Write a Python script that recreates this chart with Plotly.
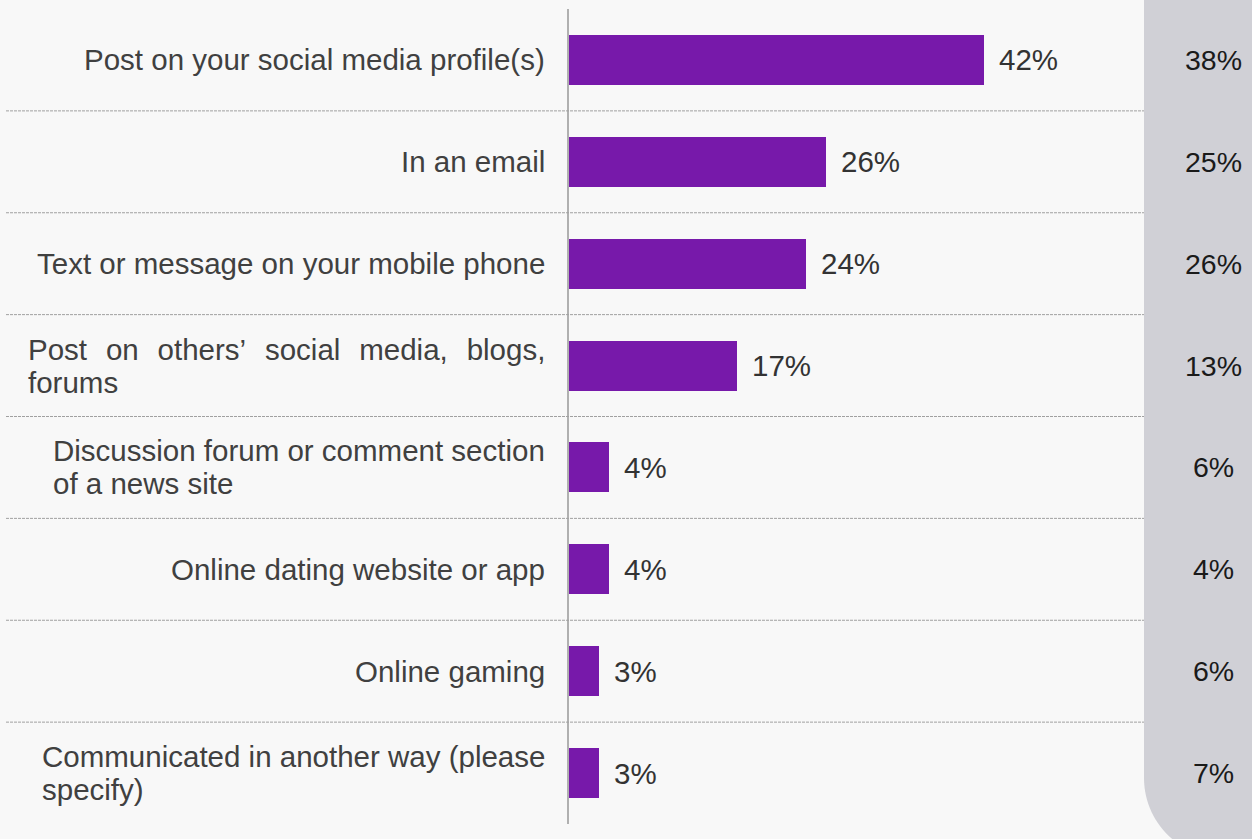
import plotly.graph_objects as go

# Survey answers: where the content was shared
categories = [
    "Post on your social media profile(s)",
    "In an email",
    "Text or message on your mobile phone",
    "Post on others’ social media, blogs, forums",
    "Discussion forum or comment section of a news site",
    "Online dating website or app",
    "Online gaming",
    "Communicated in another way (please specify)",
]
# Wrapped display text for the row labels (the first line of the fourth
# label is spread out to the full label width)
GAP = "\u00a0\u00a0\u200a"
label_lines = [
    ["Post on your social media profile(s)"],
    ["In an email"],
    ["Text or message on your mobile phone"],
    [GAP.join(["Post", "on", "others’", "social", "media,", "blogs,"]), "forums"],
    ["Discussion forum or comment section", "of a news site"],
    ["Online dating website or app"],
    ["Online gaming"],
    ["Communicated in another way (please", "specify)"],
]
current_pct = [42, 26, 24, 17, 4, 4, 3, 3]
comparison_pct = [38, 25, 26, 13, 6, 4, 6, 7]

W, H = 1252, 839
FONT = "Liberation Sans, Arial, sans-serif"
PURPLE = "#7719aa"
TEXT_SIZE = 29.5


def px(x):
    return x / W


def py(y):
    return 1 - y / H


fig = go.Figure()
fig.add_trace(go.Bar(
    y=categories,
    x=current_pct,
    orientation="h",
    marker=dict(color=PURPLE, line=dict(width=0)),
    width=0.49,
    hoverinfo="skip",
))

annotations = []
for cat, lines, v, c in zip(categories, label_lines, current_pct, comparison_pct):
    # smaller base size keeps wrapped lines tight; spans carry the real size
    text = "<br>".join(
        f'<span style="font-size:{TEXT_SIZE}px">{ln}</span>' for ln in lines
    )
    annotations.append(dict(
        x=px(547), xref="paper", y=cat, yref="y", text=text,
        xanchor="right", yanchor="middle", align="left", showarrow=False,
        font=dict(family=FONT, size=25.4, color="#404040"),
    ))
    annotations.append(dict(
        x=v, xref="x", y=cat, yref="y", text=f"{v}%",
        xanchor="left", yanchor="middle", xshift=13, showarrow=False,
        font=dict(family=FONT, size=TEXT_SIZE, color="#333333"),
    ))
    annotations.append(dict(
        x=px(1213), xref="paper", y=cat, yref="y", text=f"{c}%",
        xanchor="center", yanchor="middle", showarrow=False,
        font=dict(family=FONT, size=28.5, color="#1a1a1a"),
    ))

# Grey comparison panel with rounded lower-left corner
x0, x1, top, bot, r = 1144, 1262, -10, 858, 80
k = 0.5523 * r
panel_path = (
    f"M {px(x0)},{py(top)} L {px(x0)},{py(bot - r)} "
    f"C {px(x0)},{py(bot - r + k)} {px(x0 + r - k)},{py(bot)} {px(x0 + r)},{py(bot)} "
    f"L {px(x1)},{py(bot)} L {px(x1)},{py(top)} Z"
)
shapes = [dict(type="path", path=panel_path, xref="paper", yref="paper",
               fillcolor="#d0d0d6", line=dict(width=0), layer="below")]

# Dotted separators between rows
for i in range(len(categories) - 1):
    shapes.append(dict(
        type="line", xref="paper", yref="y",
        x0=px(6), x1=px(1144), y0=i + 0.5, y1=i + 0.5,
        line=dict(color="#a0a0a0", width=1, dash="3px,1px"),
    ))

fig.update_layout(
    width=W, height=H,
    margin=dict(l=0, r=0, t=0, b=0),
    paper_bgcolor="#f8f8f8",
    plot_bgcolor="rgba(0,0,0,0)",
    showlegend=False,
    bargap=0,
    xaxis=dict(domain=[px(569), px(1144)], range=[0, 575 / 9.88],
               visible=False, fixedrange=True),
    yaxis=dict(domain=[1 - 824 / H, 1 - 9 / H], autorange="reversed",
               showticklabels=False, ticks="", showgrid=False, zeroline=False,
               showline=True, linecolor="#b0b0b0", linewidth=2,
               fixedrange=True),
    shapes=shapes,
    annotations=annotations,
)

fig.write_html("out.html")
